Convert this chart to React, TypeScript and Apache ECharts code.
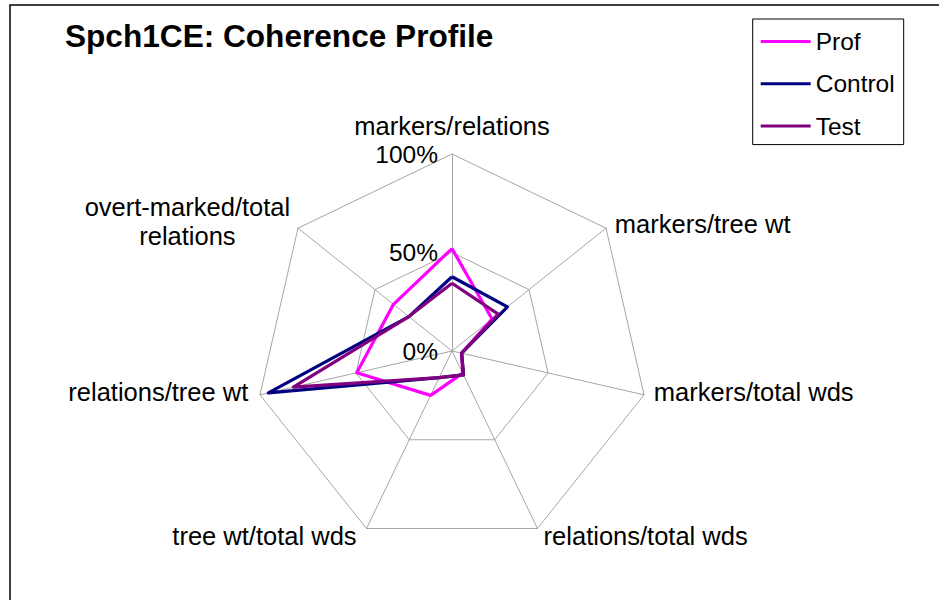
import React, { useEffect, useRef } from 'react';
import * as echarts from 'echarts';

// Axes in the visual (clockwise from top) order of the reference
const categories = [
  'markers/relations',
  'markers/tree wt',
  'markers/total wds',
  'relations/total wds',
  'tree wt/total wds',
  'relations/tree wt',
  'overt-marked/total relations',
];
const seriesNames = ['Prof', 'Control', 'Test'];
const profValues = [0.52, 0.26, 0.05, 0.125, 0.25, 0.496, 0.38];
const controlValues = [0.377, 0.36, 0.05, 0.135, 0.15, 0.956, 0.28];
const testValues = [0.344, 0.3, 0.05, 0.135, 0.15, 0.826, 0.28];
const tickValues = [0, 0.5, 1];
const titleText = 'Spch1CE: Coherence Profile';

const FONT = '"Liberation Sans", Arial, sans-serif';
const NAME_SIZE = 25.5;
const seriesColors = ['#FF00FF', '#000080', '#800080'];
// ECharts places radar indicators counter-clockwise; reorder for clockwise display
const order = [0, 6, 5, 4, 3, 2, 1];
// per-label nudges (padding) so names sit like the reference
const namePadding: number[][] = [
  [0, 0, 4.8, 0],
  [4.6, 0, 0, 1],
  [0, 0, 10.8, 0],
  [0, 0, 3.4, 1.8],
  [0, 5.6, 3.4, 0],
  [0, 1.9, 10.8, 0],
  [0, 0, 2.2, 0],
];

export default function App() {
  const ref = useRef<HTMLDivElement>(null);
  useEffect(() => {
    if (!ref.current) return;
    const chart = echarts.init(ref.current, null, { renderer: 'svg' });
    const allValues = [profValues, controlValues, testValues];
    const rich: Record<string, any> = {};
    categories.forEach((_, i) => {
      rich['n' + i] = {
        fontSize: NAME_SIZE,
        fontFamily: FONT,
        color: '#000',
        padding: namePadding[i],
      };
    });
    rich.ovA = { fontSize: NAME_SIZE, fontFamily: FONT, color: '#000', lineHeight: 30, align: 'center' };
    rich.ovB = {
      fontSize: NAME_SIZE,
      fontFamily: FONT,
      color: '#000',
      lineHeight: 30,
      align: 'center',
      padding: namePadding[6],
    };
    const option: any = {
      animation: false,
      backgroundColor: '#fff',
      textStyle: { fontFamily: FONT },
      title: {
        text: titleText,
        left: 65,
        top: 20,
        padding: 0,
        textStyle: { fontSize: 31.6, fontWeight: 'bold', color: '#000', fontFamily: FONT },
      },
      legend: {
        orient: 'vertical',
        left: 752.7,
        top: 19,
        padding: [10, 9, 6, 8],
        itemWidth: 50,
        itemHeight: 3,
        itemGap: 17.3,
        icon: 'rect',
        borderColor: '#000',
        borderWidth: 1,
        selectedMode: false,
        textStyle: { fontSize: 24.5, color: '#000', fontFamily: FONT },
        data: seriesNames,
      },
      graphic: [
        {
          type: 'rect',
          silent: true,
          shape: { x: 10, y: 5, width: 2000, height: 2000 },
          style: { fill: 'none', stroke: '#000', lineWidth: 1.5 },
        },
      ],
      radar: {
        center: [452, 351],
        radius: 197,
        startAngle: 90,
        splitNumber: 2,
        shape: 'polygon',
        nameGap: 10,
        indicator: order.map((i) => ({ name: categories[i], min: 0, max: 1 })),
        axisLine: { lineStyle: { color: '#a6a6a6', width: 1 } },
        splitLine: { lineStyle: { color: '#a6a6a6', width: 1 } },
        splitArea: { show: false },
        axisTick: { show: false },
        axisLabel: { show: false },
        axisName: {
          color: '#000',
          fontSize: NAME_SIZE,
          fontFamily: FONT,
          formatter: (name: string) => {
            const i = categories.indexOf(name);
            if (i === 6) {
              return '{ovA|overt-marked/total}\n{ovB|relations}';
            }
            return '{n' + i + '|' + name + '}';
          },
          rich,
        },
      },
      polar: { center: [452, 351], radius: 197 },
      angleAxis: { show: false, startAngle: 90, min: 0, max: 360 },
      radiusAxis: {
        type: 'value',
        min: 0,
        max: 1,
        interval: 0.5,
        axisLine: { show: false },
        axisTick: { show: false },
        splitLine: { show: false },
        axisLabel: {
          margin: 14,
          fontSize: 24.5,
          color: '#000',
          fontFamily: FONT,
          customValues: tickValues,
          formatter: (v: number) => Math.round(v * 100) + '%',
        },
      },
      series: [
        {
          type: 'radar',
          symbol: 'none',
          data: seriesNames.map((n, s) => ({
            name: n,
            value: order.map((i) => allValues[s][i]),
            lineStyle: { color: seriesColors[s], width: 3.2 },
            itemStyle: { color: seriesColors[s] },
          })),
        },
      ],
    };
    chart.setOption(option);
    return () => chart.dispose();
  }, []);
  return (
    <div
      ref={ref}
      style={{ position: 'fixed', left: 0, top: 0, width: 939, height: 600, background: '#fff' }}
    />
  );
}
